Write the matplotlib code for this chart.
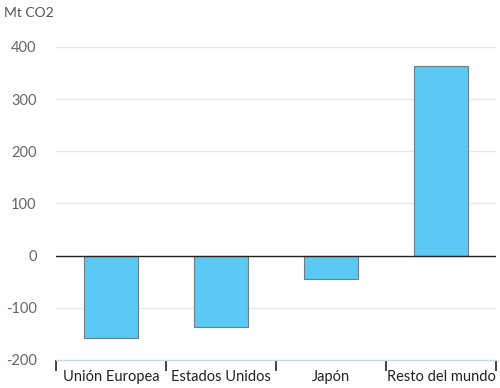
import numpy as np
import matplotlib.pyplot as plt

plt.rcParams['font.family'] = ['Lato', 'DejaVu Sans']

# data
categories = ["Unión Europea", "Estados Unidos", "Japón", "Resto del mundo"]
values = [-158, -137, -44, 363]
yticks = [-200, -100, 0, 100, 200, 300, 400]

fig = plt.figure(figsize=(5, 3.88), dpi=100)
ax = fig.add_axes([0.112, 0.0722, 0.880, 0.807])

x = np.arange(len(categories))
ax.bar(x, values, width=0.49, color='#5BC9F4', edgecolor='#6b7f86', linewidth=0.8, zorder=3)

ax.set_xlim(-0.5, len(categories) - 0.5)
ax.set_ylim(-200, 400)

# grid
for v in yticks[1:]:
    if v == 0:
        ax.axhline(0, color='#222222', linewidth=1.0, zorder=4)
    else:
        ax.axhline(v, color='#e6e6e6', linewidth=1.0, zorder=1)

ax.set_yticks(yticks)
ax.set_yticklabels([str(v) for v in yticks], color='#666666', fontsize=10.5)
ax.tick_params(axis='y', length=0, pad=14)

# category boundaries as ticks
ax.set_xticks(np.arange(-0.5, len(categories), 1.0))
ax.set_xticklabels([])
ax.tick_params(axis='x', direction='out', length=8, width=1.2, color='#222222')
for i, c in enumerate(categories):
    ax.text(i, -233, c, ha='center', va='center', fontsize=10.5, color='#222222')

for s in ['top', 'right', 'left']:
    ax.spines[s].set_visible(False)
ax.spines['bottom'].set_color('#c9d6e8')
ax.spines['bottom'].set_linewidth(1.0)

fig.text(0.008, 0.967, "Mt CO2", fontsize=10, color='#555555', ha='left', va='center')

fig.savefig("out.png", dpi=100)
